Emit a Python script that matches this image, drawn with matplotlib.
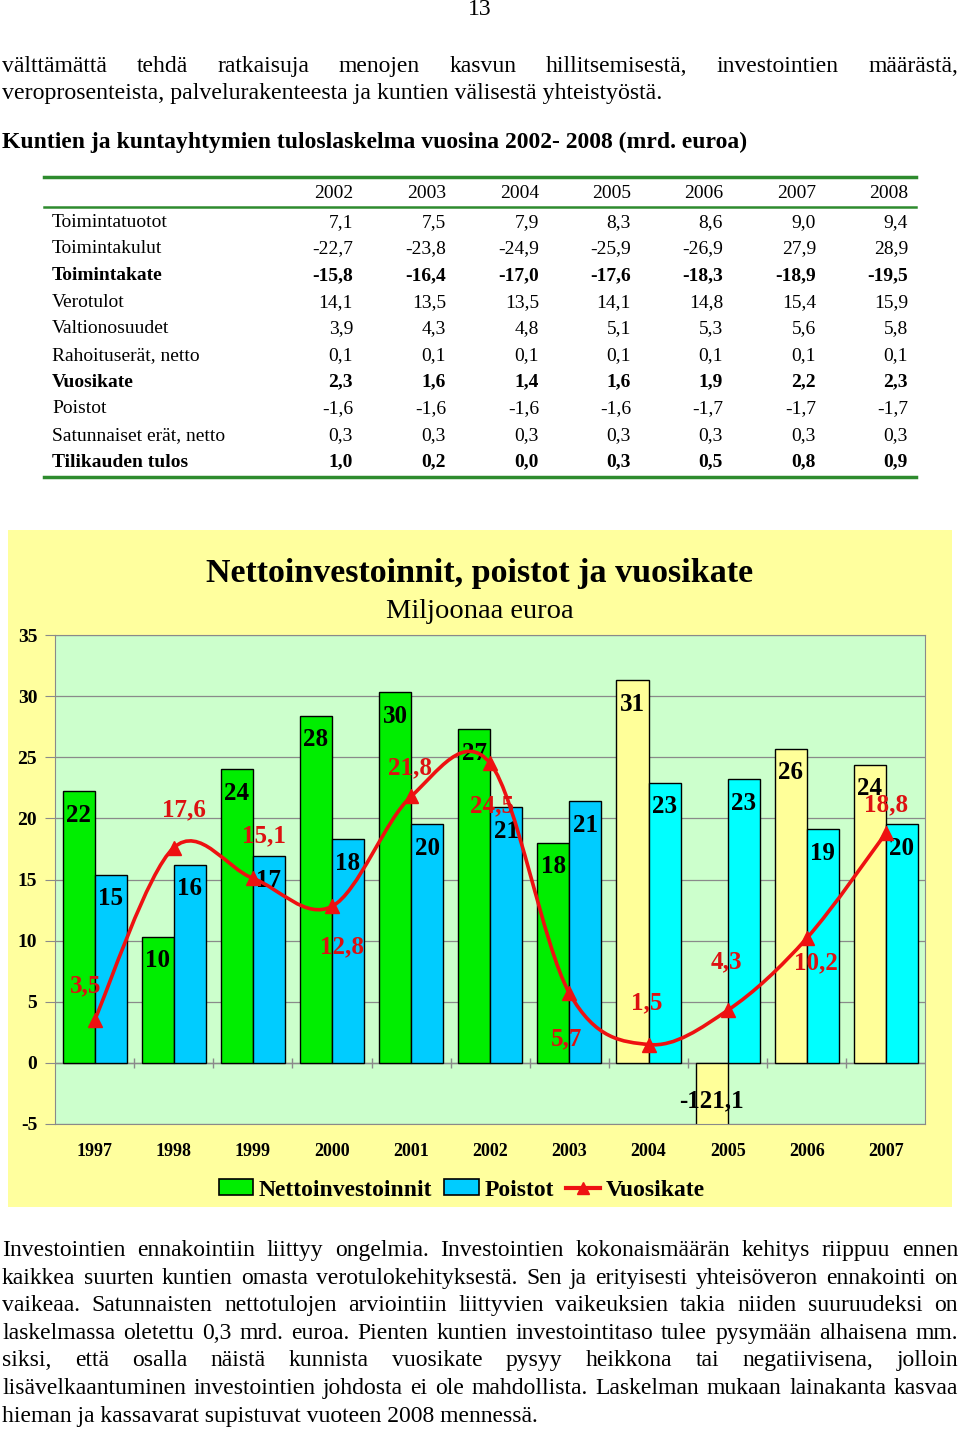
import matplotlib
matplotlib.use('Agg')
import numpy as np
import matplotlib.pyplot as plt
from matplotlib.path import Path
from matplotlib.patches import PathPatch, Patch, Rectangle
from matplotlib.lines import Line2D

SERIF = 'Liberation Serif'
plt.rcParams['axes.unicode_minus'] = False

# --- table data (mrd. euroa) ---
table_years = ['2002', '2003', '2004', '2005', '2006', '2007', '2008']
row_names = ['Toimintatuotot', 'Toimintakulut', 'Toimintakate', 'Verotulot', 'Valtionosuudet',
             'Rahoituserät, netto', 'Vuosikate', 'Poistot', 'Satunnaiset erät, netto',
             'Tilikauden tulos']
toimintatuotot = [7.1, 7.5, 7.9, 8.3, 8.6, 9.0, 9.4]
toimintakulut = [-22.7, -23.8, -24.9, -25.9, -26.9, 27.9, 28.9]
toimintakate = [-15.8, -16.4, -17.0, -17.6, -18.3, -18.9, -19.5]
verotulot = [14.1, 13.5, 13.5, 14.1, 14.8, 15.4, 15.9]
valtionosuudet = [3.9, 4.3, 4.8, 5.1, 5.3, 5.6, 5.8]
rahoituserat = [0.1, 0.1, 0.1, 0.1, 0.1, 0.1, 0.1]
vuosikate_t = [2.3, 1.6, 1.4, 1.6, 1.9, 2.2, 2.3]
poistot_t = [-1.6, -1.6, -1.6, -1.6, -1.7, -1.7, -1.7]
satunnaiset = [0.3, 0.3, 0.3, 0.3, 0.3, 0.3, 0.3]
tulos = [1.0, 0.2, 0.0, 0.3, 0.5, 0.8, 0.9]
bold_rows = ['Toimintakate', 'Vuosikate', 'Tilikauden tulos']

# --- chart data ---
years = ['1997', '1998', '1999', '2000', '2001', '2002', '2003', '2004', '2005', '2006', '2007']
netto = [22.2, 10.3, 24.0, 28.4, 30.3, 27.3, 18.0, 31.3, -121.1, 25.7, 24.4]
poistot = [15.4, 16.2, 16.9, 18.3, 19.5, 20.9, 21.4, 22.9, 23.2, 19.1, 19.5]
vuosikate = [3.5, 17.6, 15.1, 12.8, 21.8, 24.5, 5.7, 1.5, 4.3, 10.2, 18.8]

para_top = [
    'välttämättä tehdä ratkaisuja menojen kasvun hillitsemisestä, investointien määrästä,',
    'veroprosenteista, palvelurakenteesta ja kuntien välisestä yhteistyöstä.',
]
heading = 'Kuntien ja kuntayhtymien tuloslaskelma vuosina 2002- 2008 (mrd. euroa)'
para_bottom = [
    'Investointien ennakointiin liittyy ongelmia. Investointien kokonaismäärän kehitys riippuu ennen',
    'kaikkea suurten kuntien omasta verotulokehityksestä. Sen ja erityisesti yhteisöveron ennakointi on',
    'vaikeaa. Satunnaisten nettotulojen arviointiin liittyvien vaikeuksien takia niiden suuruudeksi on',
    'laskelmassa oletettu 0,3 mrd. euroa. Pienten kuntien investointitaso tulee pysymään alhaisena mm.',
    'siksi, että osalla näistä kunnista vuosikate pysyy heikkona tai negatiivisena, jolloin',
    'lisävelkaantuminen investointien johdosta ei ole mahdollista. Laskelman mukaan lainakanta kasvaa',
    'hieman ja kassavarat supistuvat vuoteen 2008 mennessä.',
]


def fi(v):
    return f'{v:.1f}'.replace('.', ',')


fig = plt.figure(figsize=(9.6, 14.29), dpi=100)
renderer = fig.canvas.get_renderer()

page = fig.add_axes([0, 0, 1, 1])
page.set_xlim(0, 960)
page.set_ylim(1429, 0)
page.axis('off')


def justified(line, base, x0=2, x1=958, **kw):
    words = line.split()
    items = [page.text(0, base, w, va='baseline', ha='left', family=SERIF, **kw) for w in words]
    widths = [t.get_window_extent(renderer).width for t in items]
    gap = (x1 - x0 - sum(widths)) / (len(words) - 1)
    x = x0
    for t, wd in zip(items, widths):
        t.set_x(x)
        x += wd + gap


# page text
page.text(480, 15, '13', ha='center', va='baseline', family=SERIF, fontsize=17)
justified(para_top[0], 72, fontsize=17)
page.text(2, 99, para_top[1], va='baseline', family=SERIF, fontsize=17.2)
page.text(2, 148, heading, va='baseline', family=SERIF, fontsize=17, fontweight='bold')
for k, line in enumerate(para_bottom):
    base = 1256 + 27.6 * k
    if k < len(para_bottom) - 1:
        justified(line, base, fontsize=17)
    else:
        page.text(2, base, line, va='baseline', family=SERIF, fontsize=17)

# table
rows = [toimintatuotot, toimintakulut, toimintakate, verotulot, valtionosuudet,
        rahoituserat, vuosikate_t, poistot_t, satunnaiset, tulos]
col_right = [353, 446, 539, 631, 723, 816, 908]
tgreen = '#2E8B2E'
page.plot([44, 916], [177, 177], color=tgreen, lw=2.5)
page.plot([44, 916], [207, 207], color=tgreen, lw=1.8)
page.plot([44, 916], [477, 477], color=tgreen, lw=2.5)
for c, yr in zip(col_right, table_years):
    page.text(c, 198, yr, ha='right', va='baseline', family=SERIF, fontsize=14)
for k, (name, vals) in enumerate(zip(row_names, rows)):
    base = 226.7 + 26.67 * k
    fw = 'bold' if name in bold_rows else 'normal'
    page.text(52, base, name, va='baseline', family=SERIF, fontsize=14, fontweight=fw)
    for c, v in zip(col_right, vals):
        page.text(c, base, fi(v), ha='right', va='baseline', family=SERIF, fontsize=14, fontweight=fw)

# chart background and titles
page.add_patch(Rectangle((8, 530), 944, 677, facecolor='#FFFF9E', edgecolor='none', zorder=0))
page.text(480, 582, 'Nettoinvestoinnit, poistot ja vuosikate', ha='center', va='baseline',
          family=SERIF, fontsize=24.5, fontweight='bold')
page.text(480, 618, 'Miljoonaa euroa', ha='center', va='baseline', family=SERIF, fontsize=20.5)

# chart axes
ax = fig.add_axes([55 / 960, (1429 - 1124) / 1429, (925.5 - 55) / 960, (1124 - 635) / 1429])
ax.set_facecolor('#CCFFCC')
x = np.arange(len(years))
w = 0.405
late = [int(y) >= 2004 for y in years]
netto_col = ['#FFFF99' if l else '#00EE00' for l in late]
poisto_col = ['#00FFFF' if l else '#00CCFF' for l in late]
ax.bar(x - w / 2, netto, w, color=netto_col, edgecolor='black', lw=1, zorder=2)
ax.bar(x + w / 2, poistot, w, color=poisto_col, edgecolor='black', lw=1, zorder=2)
ax.set_xlim(-0.5, len(years) - 0.5)
ax.set_ylim(-5, 35)
ax.set_yticks(range(-5, 36, 5))
ax.yaxis.grid(True, color='#8A8A8A', lw=0.9)
ax.set_axisbelow(True)
for s in ax.spines.values():
    s.set_color('#8A8A8A')
ax.axhline(0, color='#8A8A8A', lw=1, zorder=1.5)
ax.vlines(x[1:] - 0.5, -0.4, 0.4, color='#8A8A8A', lw=1, zorder=1.5)
ax.tick_params(axis='y', length=7, color='#8A8A8A', pad=5.8)
ax.set_xticks(x)
ax.set_xticklabels(years)
ax.tick_params(axis='x', length=0, pad=14)
for lab in ax.get_yticklabels():
    lab.set_fontfamily(SERIF); lab.set_fontweight('bold'); lab.set_fontsize(14)
for lab in ax.get_xticklabels():
    lab.set_fontfamily(SERIF); lab.set_fontweight('bold'); lab.set_fontsize(13)

# bar labels (inside end)
lab_kw = dict(ha='center', va='center', family=SERIF, fontsize=18, fontweight='bold',
              textcoords='offset points', zorder=3)
for xi, v in zip(x, netto):
    end = max(v, -5)
    txt = f'{v:.0f}' if -5 <= v <= 35 else fi(v)
    ax.annotate(txt, (xi - w / 2, end), xytext=(0, -17.3 if v > 0 else 16.5), **lab_kw)
for xi, v in zip(x, poistot):
    ax.annotate(f'{v:.0f}', (xi + w / 2, v), xytext=(0, -17.3), **lab_kw)

# smoothed Vuosikate line
red = '#EE1111'
pts = np.column_stack([x, vuosikate]).astype(float)
ext = np.vstack([pts[0], pts, pts[-1]])
verts = [pts[0]]
codes = [Path.MOVETO]
for i in range(len(pts) - 1):
    p0, p1, p2, p3 = ext[i], ext[i + 1], ext[i + 2], ext[i + 3]
    verts += [p1 + (p2 - p0) / 6, p2 - (p3 - p1) / 6, p2]
    codes += [Path.CURVE4] * 3
ax.add_patch(PathPatch(Path(verts, codes), facecolor='none', edgecolor=red, lw=2.6, zorder=4))
ax.plot(x, vuosikate, ls='none', marker='^', ms=10, color=red, zorder=4)

red_off = [(-9, -34), (10, -38), (11, -42), (10, 40), (-1, -29), (2, 42),
           (-3, 46), (-2, -42), (-1, -48), (9, 25), (0, -28)]
for xi, v, (dx, dy) in zip(x, vuosikate, red_off):
    ax.annotate(fi(v), (xi, v), xytext=(dx * 0.72, -dy * 0.72), textcoords='offset points',
                ha='center', va='center', family=SERIF, fontsize=18, fontweight='bold',
                color='#DD1111', zorder=5)

handles = [Patch(facecolor='#00EE00', edgecolor='black', lw=1.2),
           Patch(facecolor='#00CCFF', edgecolor='black', lw=1.2),
           Line2D([], [], color=red, lw=3, marker='^', ms=9)]
fig.legend(handles, ['Nettoinvestoinnit', 'Poistot', 'Vuosikate'], loc='center',
           bbox_to_anchor=(462 / 960, 1 - 1190 / 1429), ncol=3, frameon=False,
           prop={'family': SERIF, 'weight': 'bold', 'size': 17},
           handlelength=1.45, handleheight=0.65, handletextpad=0.25, columnspacing=0.5)

fig.savefig('out.png', dpi=100)
